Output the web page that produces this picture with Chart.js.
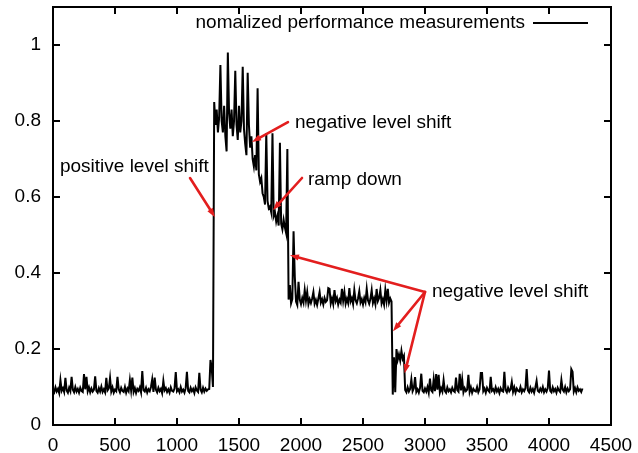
<!DOCTYPE html>
<html>
<head>
<meta charset="utf-8">
<script src="https://cdn.jsdelivr.net/npm/chart.js@4.4.1/dist/chart.umd.min.js"></script>
<style>
  html, body { margin: 0; padding: 0; background: #fff; }
  #wrap { width: 638px; height: 453px; }
</style>
</head>
<body>
<div id="wrap"><canvas id="chart" width="638" height="453"></canvas></div>
<script>
// Sampling interval of the measurement trace
const SAMPLE_STEP = 10;
const seriesLabel = 'nomalized performance measurements';

// Axis tick values
const xTicks = [0, 500, 1000, 1500, 2000, 2500, 3000, 3500, 4000, 4500];
const yTicks = [0, 0.2, 0.4, 0.6, 0.8, 1];

// Normalized measurements, one regime per array (start time of each regime below)
const idleStart = 0;
const idleLevel = [
  .092,.086,.099,.088,.095,.084,.118,.090,.097,.087,
  .124,.091,.085,.098,.089,.127,.093,.086,.100,.088,
  .095,.085,.098,.090,.087,.134,.094,.127,.089,.099,
  .086,.096,.088,.093,.128,.090,.085,.097,.088,.101,
  .087,.094,.086,.124,.091,.096,.124,.088,.099,.085,
  .093,.089,.127,.094,.086,.098,.090,.087,.100,.085,
  .096,.089,.118,.091,.125,.087,.097,.084,.095,.090,
  .099,.086,.142,.092,.088,.098,.085,.094,.089,.100,
  .120,.087,.125,.093,.086,.098,.089,.095,.084,.116,
  .091,.097,.087,.094,.085,.099,.090,.088,.096,.139,
  .089,.094,.086,.100,.088,.093,.085,.097,.140,.090,
  .086,.098,.089,.095,.084,.099,.091,.087,.137,.093,
  .086,.098,.088,.096,.090,.094,.095,.171,.150,.100
];

const surgeStart = 1300;
const surgeLevel = [
  .850,.790,.830,.770,.810,.947,.800,.770,.840,.760,
  .720,.980,.820,.780,.830,.760,.800,.932,.790,.750,
  .840,.770,.800,.943,.780,.740,.710,.927,.790,.730,
  .760,.700,.680,.710,.670,.886,.660,.640,.650,.610,
  .600,.580,.768,.590,.570,.575,.560,.768,.550,.560,
  .535,.550,.525,.743,.530,.515,.540,.520,.505,.726
];

const plateauStart = 1900;
const plateauLevel = [
  .330,.368,.320,.331,.510,.390,.325,.316,.377,.330,
  .318,.334,.322,.355,.327,.350,.318,.331,.321,.333,
  .350,.319,.329,.316,.333,.350,.322,.331,.317,.334,
  .324,.328,.360,.358,.320,.333,.318,.355,.326,.335,
  .317,.330,.322,.358,.327,.350,.319,.332,.321,.360,
  .325,.334,.318,.355,.328,.320,.333,.352,.322,.331,
  .317,.334,.323,.358,.328,.319,.332,.355,.321,.333,
  .318,.358,.326,.334,.355,.320,.331,.317,.355,.327,
  .358,.322,.333,.325
];

const stepStart = 2740;
const stepLevel = [.080,.178,.086,.200,.172,.186,.170,.195,.174,.182];

const tailStart = 2840;
const tailLevel = [
  .092,.086,.099,.088,.095,.120,.089,.097,.126,.087,
  .094,.085,.098,.135,.090,.086,.096,.088,.100,.085,
  .122,.091,.087,.120,.089,.134,.093,.132,.086,.097,
  .088,.118,.090,.085,.099,.089,.094,.086,.098,.090,
  .087,.125,.092,.088,.135,.091,.120,.086,.097,.089,
  .093,.132,.087,.099,.085,.095,.090,.088,.100,.086,
  .094,.137,.137,.089,.096,.085,.098,.091,.087,.127,
  .090,.094,.086,.099,.088,.095,.084,.097,.090,.088,
  .140,.092,.086,.098,.089,.094,.113,.087,.099,.085,
  .096,.090,.088,.100,.086,.094,.089,.097,.147,.091,
  .086,.098,.088,.095,.085,.099,.116,.090,.087,.096,
  .089,.100,.086,.094,.088,.097,.143,.090,.086,.099,
  .089,.095,.085,.098,.091,.087,.118,.093,.088,.100,
  .086,.096,.089,.094,.147,.140,.088,.097,.086,.099,
  .090,.094,.087,.096
];

const regimes = [
  { start: idleStart, values: idleLevel },
  { start: surgeStart, values: surgeLevel },
  { start: plateauStart, values: plateauLevel },
  { start: stepStart, values: stepLevel },
  { start: tailStart, values: tailLevel }
];

const trace = regimes.flatMap(r =>
  r.values.map((v, i) => ({ x: r.start + i * SAMPLE_STEP, y: v }))
);

// Callouts: text anchor and arrow targets, in data units
const callouts = [
  { text: 'positive level shift', at: [56, 0.679],
    from: [1105, 0.650], to: [[1306, 0.547]] },
  { text: 'negative level shift', at: [1952, 0.795],
    from: [1895, 0.797], to: [[1605, 0.745]] },
  { text: 'ramp down', at: [2056, 0.645],
    from: [2008, 0.650], to: [[1774, 0.566]] },
  { text: 'negative level shift', at: [3056, 0.350],
    from: [3000, 0.350], to: [[1911, 0.447], [2742, 0.247], [2836, 0.136]] }
];

const FONT = "'Liberation Sans', Arial, Helvetica, sans-serif";
const FONT_SIZE = 19;
const ARROW_RED = '#e31e1e';

// Frame with inward tick marks on all four sides
const framePlugin = {
  id: 'frame',
  afterDatasetsDraw(chart) {
    const { ctx, chartArea: a, scales } = chart;
    const len = 7;
    ctx.save();
    ctx.strokeStyle = '#000';
    ctx.lineWidth = 2;
    ctx.strokeRect(a.left, a.top, a.right - a.left, a.bottom - a.top);
    ctx.beginPath();
    xTicks.forEach(v => {
      const px = Math.round(scales.x.getPixelForValue(v));
      ctx.moveTo(px, a.bottom); ctx.lineTo(px, a.bottom - len);
      ctx.moveTo(px, a.top); ctx.lineTo(px, a.top + len);
    });
    yTicks.forEach(v => {
      const py = Math.round(scales.y.getPixelForValue(v));
      ctx.moveTo(a.left, py); ctx.lineTo(a.left + len, py);
      ctx.moveTo(a.right, py); ctx.lineTo(a.right - len, py);
    });
    ctx.stroke();
    ctx.restore();
  }
};

// Key in the top-right corner: label then line sample
const keyPlugin = {
  id: 'key',
  afterDatasetsDraw(chart) {
    const { ctx, chartArea: a } = chart;
    const y = a.top + 16;
    ctx.save();
    ctx.font = FONT_SIZE + 'px ' + FONT;
    ctx.fillStyle = '#000';
    ctx.textAlign = 'right';
    ctx.textBaseline = 'middle';
    ctx.fillText(chart.data.datasets[0].label, a.right - 86, y);
    ctx.strokeStyle = '#000';
    ctx.lineWidth = 2;
    ctx.beginPath();
    ctx.moveTo(a.right - 78, y);
    ctx.lineTo(a.right - 23, y);
    ctx.stroke();
    ctx.restore();
  }
};

function drawArrow(ctx, x0, y0, x1, y1) {
  const ang = Math.atan2(y1 - y0, x1 - x0);
  const head = 9, half = 3.2;
  const bx = x1 - head * Math.cos(ang), by = y1 - head * Math.sin(ang);
  ctx.beginPath();
  ctx.moveTo(x0, y0);
  ctx.lineTo(bx, by);
  ctx.stroke();
  ctx.beginPath();
  ctx.moveTo(x1, y1);
  ctx.lineTo(bx + half * Math.sin(ang), by - half * Math.cos(ang));
  ctx.lineTo(bx - half * Math.sin(ang), by + half * Math.cos(ang));
  ctx.closePath();
  ctx.fill();
}

const calloutPlugin = {
  id: 'callouts',
  afterDatasetsDraw(chart) {
    const { ctx, scales: { x, y } } = chart;
    ctx.save();
    ctx.strokeStyle = ARROW_RED;
    ctx.fillStyle = ARROW_RED;
    ctx.lineWidth = 2.6;
    ctx.lineCap = 'round';
    callouts.forEach(c => {
      const fx = x.getPixelForValue(c.from[0]), fy = y.getPixelForValue(c.from[1]);
      c.to.forEach(t => drawArrow(ctx, fx, fy, x.getPixelForValue(t[0]), y.getPixelForValue(t[1])));
    });
    ctx.font = FONT_SIZE + 'px ' + FONT;
    ctx.fillStyle = '#000';
    ctx.textAlign = 'left';
    ctx.textBaseline = 'middle';
    callouts.forEach(c => {
      ctx.fillText(c.text, x.getPixelForValue(c.at[0]), y.getPixelForValue(c.at[1]));
    });
    ctx.restore();
  }
};

new Chart(document.getElementById('chart'), {
  type: 'line',
  data: {
    datasets: [{
      label: seriesLabel,
      data: trace,
      borderColor: '#000',
      borderWidth: 2,
      pointRadius: 0,
      tension: 0,
      fill: false
    }]
  },
  options: {
    responsive: false,
    animation: false,
    devicePixelRatio: 1,
    layout: { padding: { top: 7, right: 27, left: 0, bottom: 0 } },
    plugins: { legend: { display: false }, tooltip: { enabled: false } },
    scales: {
      x: {
        type: 'linear',
        min: 0,
        max: 4500,
        afterBuildTicks: s => { s.ticks = xTicks.map(v => ({ value: v })); },
        afterFit: s => { s.height = 28; s.paddingLeft = 0; s.paddingRight = 0; },
        grid: { display: false, drawTicks: false },
        border: { display: false },
        ticks: {
          autoSkip: false, maxRotation: 0, padding: 9, color: '#000',
          font: { family: FONT, size: FONT_SIZE },
          callback: v => String(v)
        }
      },
      y: {
        type: 'linear',
        min: 0,
        max: 1.1,
        afterBuildTicks: s => { s.ticks = yTicks.map(v => ({ value: v })); },
        afterFit: s => { s.width = 53; s.paddingTop = 0; s.paddingBottom = 0; },
        grid: { display: false, drawTicks: false },
        border: { display: false },
        ticks: {
          padding: 12, color: '#000',
          font: { family: FONT, size: FONT_SIZE },
          callback: v => String(v)
        }
      }
    }
  },
  plugins: [framePlugin, keyPlugin, calloutPlugin]
});
</script>
</body>
</html>
